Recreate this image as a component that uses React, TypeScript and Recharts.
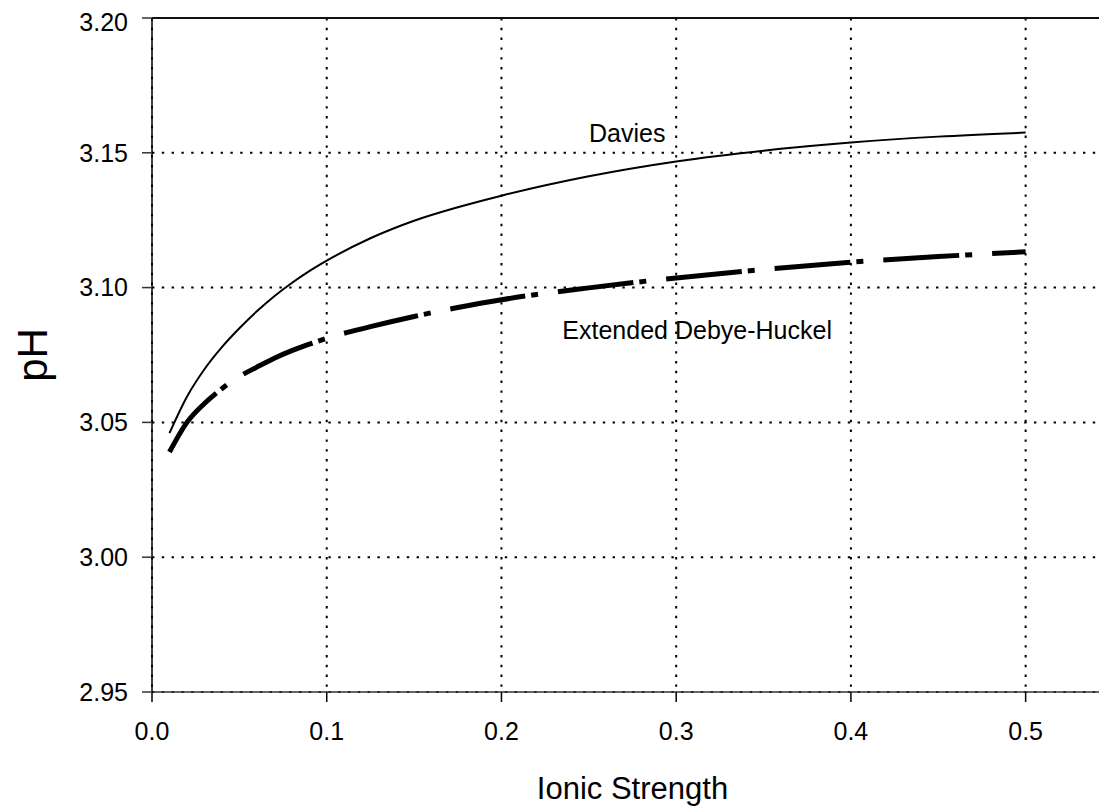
import { LineChart, Line, XAxis, YAxis, CartesianGrid, ReferenceLine, ReferenceDot } from "recharts"

const ionicStrength = [0.01, 0.02, 0.03, 0.04, 0.05, 0.06, 0.07, 0.08, 0.09, 0.1, 0.125, 0.15, 0.175, 0.2, 0.25, 0.3, 0.35, 0.4, 0.45, 0.5]
const davies = [3.046, 3.0595, 3.0697, 3.0779, 3.0849, 3.0912, 3.0968, 3.1017, 3.1061, 3.11, 3.1183, 3.1248, 3.1298, 3.1341, 3.1413, 3.1468, 3.1508, 3.1538, 3.156, 3.1575]
const debyeHuckel = [3.039, 3.05, 3.057, 3.0625, 3.067, 3.0705, 3.0738, 3.0766, 3.079, 3.0812, 3.0855, 3.0893, 3.0926, 3.0955, 3.0999, 3.1036, 3.1067, 3.1094, 3.1115, 3.1133]

const xTicks = [0, 0.1, 0.2, 0.3, 0.4, 0.5]
const yTicks = [2.95, 3.0, 3.05, 3.1, 3.15, 3.2]

const daviesLabel = { x: 0.272, y: 3.1573, text: "Davies" }
const debyeLabel = { x: 0.312, y: 3.0843, text: "Extended Debye-Huckel" }

const font = "'Liberation Sans', Arial, sans-serif"

const data = ionicStrength.map((x, i) => ({ x, davies: davies[i], edh: debyeHuckel[i] }))

const XTitle = ({ viewBox }) => (
  <text x={viewBox.x + viewBox.width / 2} y={viewBox.y + viewBox.height - 9} textAnchor="middle" fontSize={31} fontFamily={font} fill="#000">
    Ionic Strength
  </text>
)

const YTitle = ({ viewBox }) => {
  const cx = viewBox.x + 24
  const cy = viewBox.y + viewBox.height / 2
  return (
    <text x={cx} y={cy} transform={`rotate(-90 ${cx} ${cy})`} textAnchor="middle" dominantBaseline="central" fontSize={42} fontFamily={font} fill="#000">
      pH
    </text>
  )
}

const App = () => {

  return (

    <div style={{ width: 1099, height: 800, overflow: "hidden" }}>

      <LineChart width={1112} height={800} data={data} margin={{ top: 10, right: 7, bottom: 0, left: 0 }}>

        <CartesianGrid stroke="#000" strokeWidth={2} strokeDasharray="2.4 7.4"/>

        <XAxis
          type="number"
          dataKey="x"
          domain={[0, 0.55]}
          ticks={xTicks}
          allowDataOverflow
          height={116}
          tickSize={10}
          tickMargin={20}
          tickFormatter={v => v.toFixed(1)}
          tick={{ fontSize: 25, fontFamily: font, fill: "#000" }}
          axisLine={{ stroke: "#333", strokeWidth: 1.5 }}
          tickLine={{ stroke: "#000", strokeWidth: 1.5 }}
          label={{ content: XTitle }}
        />

        <YAxis
          type="number"
          domain={[2.95, 3.2]}
          ticks={yTicks}
          allowDataOverflow
          width={144}
          tickSize={10}
          tickMargin={14}
          tickFormatter={v => v.toFixed(2)}
          tick={{ fontSize: 25, fontFamily: font, fill: "#000" }}
          axisLine={{ stroke: "#000", strokeWidth: 1.5 }}
          tickLine={{ stroke: "#333", strokeWidth: 1.5 }}
          label={{ content: YTitle }}
        />

        <ReferenceLine y={3.2} stroke="#111" strokeWidth={2}/>

        <Line type="monotone" dataKey="davies" stroke="#000" strokeWidth={2} dot={false} isAnimationActive={false}/>

        <Line type="monotone" dataKey="edh" stroke="#000" strokeWidth={5} strokeDasharray="76 6 7 20" dot={false} isAnimationActive={false}/>

        <ReferenceDot x={daviesLabel.x} y={daviesLabel.y} r={0} fill="none" stroke="none"
          label={{ value: daviesLabel.text, position: "center", fontSize: 25, fontFamily: font, fill: "#000" }}/>

        <ReferenceDot x={debyeLabel.x} y={debyeLabel.y} r={0} fill="none" stroke="none"
          label={{ value: debyeLabel.text, position: "center", fontSize: 25, fontFamily: font, fill: "#000" }}/>

      </LineChart>

    </div>

  )

}

export default App
